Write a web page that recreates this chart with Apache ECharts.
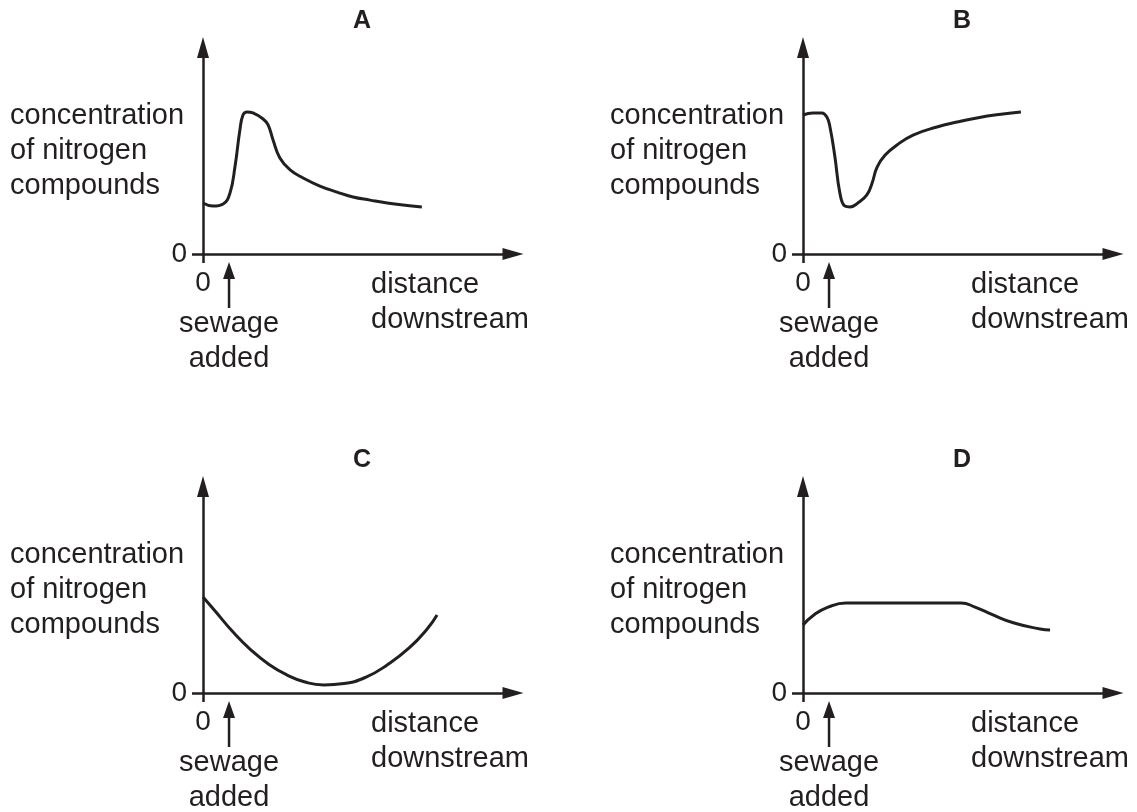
<!DOCTYPE html>
<html>
<head>
<meta charset="utf-8">
<script src="https://cdn.jsdelivr.net/npm/echarts@6/dist/echarts.min.js"></script>
<style>
  html, body { margin: 0; padding: 0; background: #fff; }
  #chart { width: 1137px; height: 812px; }
</style>
</head>
<body>
<div id="chart"></div>
<script>
// distance downstream (0-100) and concentration (0-100)
const distA = [0, 3.2, 6.5, 8.7, 10.3, 11.9, 12.9, 14.2, 16.1, 19.4, 21, 22.6, 24.8, 28.1, 32.3, 37.7, 43.2, 48.4, 53.9, 59.4, 64.5, 70.6];
const concA = [24.7, 23.2, 24.2, 29.5, 42.1, 60, 67.3, 68.8, 68.3, 65.4, 62.5, 55.2, 46.5, 40.7, 36.8, 32.9, 30, 27.6, 26.1, 24.7, 23.7, 22.8];

const distB = [0, 3.2, 6.1, 7.7, 8.7, 10.3, 11.9, 13.5, 15.2, 17.7, 20.6, 22.3, 23.9, 26.5, 30.3, 35.5, 43.2, 49.7, 56.1, 64.5, 70.3];
const concB = [67.3, 68.3, 68.3, 66.3, 61.5, 47, 29.5, 23.2, 22.8, 24.7, 28.6, 34.4, 42.1, 47.9, 52.8, 57.6, 61.5, 63.9, 65.9, 67.8, 68.8];

const distC = [0, 3.9, 9.7, 15.5, 21.3, 27.1, 32.9, 39, 45.5, 52.6, 59.4, 66.5, 72.3, 75.5];
const concC = [46.5, 39.7, 29.5, 20.8, 13.8, 8.7, 5.3, 3.9, 4.6, 7.7, 13.6, 21.8, 31, 37.8];

const distD = [0, 3.5, 8.1, 13.9, 19.7, 35, 51, 55.5, 61.3, 68.1, 76.5, 79.7];
const concD = [32.9, 37.8, 41.6, 43.6, 43.6, 43.6, 43.6, 41.6, 37.8, 33.9, 31, 30.5];

const panelNames = ["A", "B", "C", "D"];
const sewageAt = 8.4; // where sewage is added
const zeroTicks = [0];
const yTitle = "concentration\nof nitrogen\ncompounds";
const xTitle = "distance\ndownstream";
const sewageText = "sewage\nadded";

const ink = "#231f20";
const font = "'Liberation Sans', Arial, Helvetica, sans-serif";

// quadrant offsets
const offsets = [[0, 0], [600, 0], [0, 439], [600, 439]];
const curves = [[distA, concA], [distB, concB], [distC, concC], [distD, concD]];
const smoothness = [0.45, 0.45, 0.5, 0.5];

const chart = echarts.init(document.getElementById("chart"));

const grids = [], xAxes = [], yAxes = [], series = [];
offsets.forEach(([dx, dy], i) => {
  grids.push({
    left: 203 + dx,
    top: 47.5 + dy,
    width: 310,
    height: 206.5,
    outerBoundsMode: "none",
  });
  xAxes.push({
    type: "value",
    gridIndex: i,
    min: 0,
    max: 100,
    splitLine: { show: false },
    axisLine: {
      show: true,
      onZero: false,
      symbol: ["none", "triangle"],
      symbolSize: [12, 21],
      lineStyle: { color: ink, width: 2.5 },
    },
    axisTick: { show: true, customValues: zeroTicks, length: 9, lineStyle: { color: ink, width: 2.5 } },
    axisLabel: { customValues: zeroTicks, margin: 15, fontSize: 28, color: ink, fontFamily: font },
  });
  yAxes.push({
    type: "value",
    gridIndex: i,
    min: 0,
    max: 100,
    splitLine: { show: false },
    axisLine: {
      show: true,
      onZero: false,
      symbol: ["none", "triangle"],
      symbolSize: [12, 21],
      lineStyle: { color: ink, width: 2.5 },
    },
    axisTick: { show: true, customValues: zeroTicks, length: 11, lineStyle: { color: ink, width: 2.5 } },
    axisLabel: { customValues: zeroTicks, margin: 16, fontSize: 28, color: ink, fontFamily: font },
  });
  const [xs, ys] = curves[i];
  series.push({
    type: "line",
    xAxisIndex: i,
    yAxisIndex: i,
    data: xs.map((x, k) => [x, ys[k]]),
    smooth: smoothness[i],
    showSymbol: false,
    silent: true,
    lineStyle: { color: ink, width: 3 },
  });
});

chart.setOption({
  animation: false,
  grid: grids,
  xAxis: xAxes,
  yAxis: yAxes,
  series: series,
});

// labels and "sewage added" arrows, placed from each axis origin
const graphic = [];
offsets.forEach(([dx, dy], i) => {
  const origin = chart.convertToPixel({ xAxisIndex: i, yAxisIndex: i }, [0, 0]);
  const sew = chart.convertToPixel({ xAxisIndex: i, yAxisIndex: i }, [sewageAt, 0]);
  const ox = origin[0], oy = origin[1];

  graphic.push({
    type: "text",
    x: ox + 159, y: oy - 233,
    style: { text: panelNames[i], fill: ink, font: "bold 25px " + font, align: "center", verticalAlign: "middle" },
  });
  graphic.push({
    type: "text",
    x: ox - 193, y: oy - 103,
    style: { text: yTitle, fill: ink, font: "29px " + font, lineHeight: 35, align: "left", verticalAlign: "middle" },
  });
  graphic.push({
    type: "text",
    x: ox + 168, y: oy + 48,
    style: { text: xTitle, fill: ink, font: "29px " + font, lineHeight: 35, align: "left", verticalAlign: "middle" },
  });
  graphic.push({
    type: "text",
    x: sew[0], y: sew[1] + 87,
    style: { text: sewageText, fill: ink, font: "29px " + font, lineHeight: 35, align: "center", verticalAlign: "middle" },
  });
  graphic.push({
    type: "line",
    shape: { x1: sew[0], y1: sew[1] + 54, x2: sew[0], y2: sew[1] + 22 },
    style: { stroke: ink, lineWidth: 2.5 },
  });
  graphic.push({
    type: "polygon",
    shape: { points: [[sew[0], sew[1] + 8], [sew[0] + 6, sew[1] + 25], [sew[0] - 6, sew[1] + 25]] },
    style: { fill: ink },
  });
});

chart.setOption({ graphic: graphic });
</script>
</body>
</html>
